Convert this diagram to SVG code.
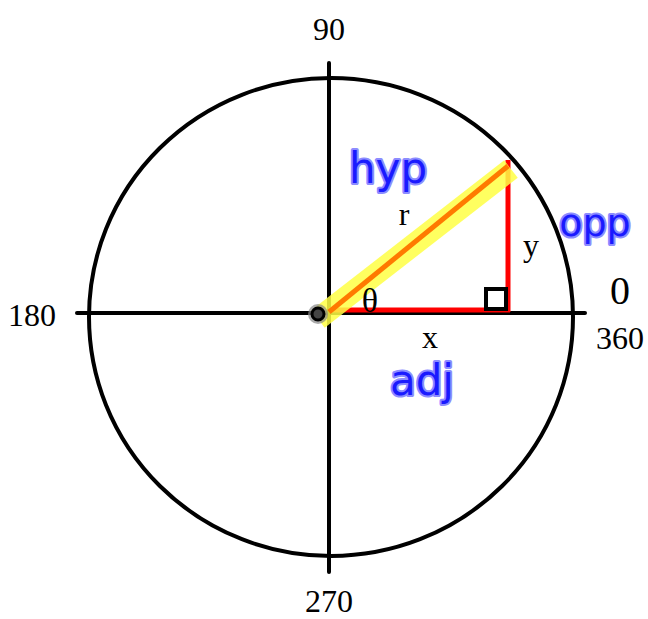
<svg xmlns="http://www.w3.org/2000/svg" width="648" height="619" viewBox="0 0 648 619">
<style>
.lbl{font-family:"Liberation Serif",serif;fill:#000}
.hand{font-family:"DejaVu Sans","Noto Sans",sans-serif;fill:#1a1aff;stroke:#8c8cff;stroke-width:4;paint-order:stroke;stroke-linejoin:round}
.axis{stroke:#000;stroke-width:4;stroke-linecap:round;fill:none}
</style>
<rect width="648" height="619" fill="#fff"/>
<g id="circle"><ellipse cx="331" cy="317" rx="242" ry="239" fill="none" stroke="#000" stroke-width="4"/></g>
<g id="connectors">
<line class="axis" x1="77" y1="313" x2="585" y2="313"/>
<line class="axis" x1="329" y1="63" x2="329" y2="572"/>
<line x1="329" y1="310" x2="510" y2="310" stroke="#ff0000" stroke-width="5"/>
<line x1="508" y1="312" x2="508" y2="160" stroke="#ff0000" stroke-width="5"/>
<line x1="318" y1="319" x2="511" y2="169" stroke="#ffff44" stroke-opacity="0.85" stroke-width="22"/>
<line x1="329" y1="312" x2="508" y2="166" stroke="#ff7a00" stroke-width="5"/>
<rect x="486" y="289" width="20" height="20" fill="none" stroke="#000" stroke-width="4"/>
</g>
<g id="origin">
<circle cx="318" cy="314" r="10" fill="#888" fill-opacity="0.7"/>
<circle cx="318" cy="314" r="6" fill="#444" stroke="#000" stroke-width="3"/>
</g>
<g id="labels">
<text class="lbl" x="329" y="40" font-size="32" text-anchor="middle">90</text>
<text class="lbl" x="329" y="612" font-size="32" text-anchor="middle">270</text>
<text class="lbl" x="8" y="326" font-size="32">180</text>
<text class="lbl" x="620" y="304" font-size="40" text-anchor="middle">0</text>
<text class="lbl" x="620" y="349" font-size="32" text-anchor="middle">360</text>
<text class="lbl" x="370" y="312" font-size="34" text-anchor="middle">θ</text>
<text class="lbl" x="404" y="225" font-size="32" text-anchor="middle">r</text>
<text class="lbl" x="531" y="256" font-size="32" text-anchor="middle">y</text>
<text class="lbl" x="430" y="348" font-size="32" text-anchor="middle">x</text>
</g>
<g id="hand-labels">
<text class="hand" x="388" y="183" font-size="42" text-anchor="middle">hyp</text>
<text class="hand" x="595" y="236" font-size="38" text-anchor="middle">opp</text>
<text class="hand" x="422" y="395" font-size="42" text-anchor="middle">adj</text>
</g>
</svg>
